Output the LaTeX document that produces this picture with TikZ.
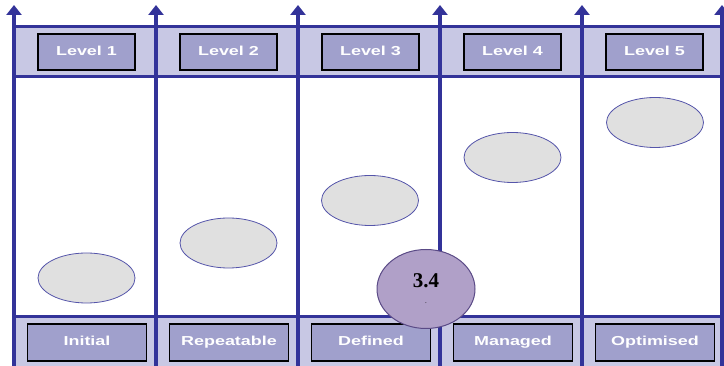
\documentclass[tikz,border=0pt]{standalone}
\usepackage{fontspec}
\setmainfont{Liberation Serif}
\setsansfont{Liberation Sans}
\usetikzlibrary{arrows.meta,shapes.geometric}
\definecolor{pillar}{HTML}{333399}
\definecolor{band}{HTML}{C8C8E4}
\definecolor{lvlfill}{HTML}{A0A0CC}
\definecolor{spotfill}{HTML}{E0E0E0}
\definecolor{spotline}{HTML}{5555AA}
\definecolor{scorefill}{HTML}{B0A0C8}
\definecolor{scoreline}{HTML}{5A4A86}
\newcommand{\widetxt}[1]{\scalebox{1.38}[1]{#1}}
\tikzset{
  levelbox/.style={draw=black, line width=1.2pt, fill=lvlfill, text=white,
    minimum width=97pt, minimum height=36pt, inner sep=0pt,
    text height=9.5pt, text depth=2.7pt,
    font=\sffamily\bfseries\fontsize{13}{15}\selectfont},
  stagebox/.style={levelbox, minimum width=119pt, minimum height=37pt},
  spot/.style={ellipse, draw=spotline, line width=0.8pt, fill=spotfill,
    minimum width=97pt, minimum height=50pt, inner sep=0pt},
  pillarline/.style={pillar, line width=4.5pt},
}
\begin{document}
\begin{tikzpicture}[x=1pt,y=-1pt]
  \useasboundingbox (0,0) rectangle (724,366);
  % bands
  \fill[band] (14,26.5) rectangle (726,76.5);
  \fill[band] (14,317) rectangle (726,366);
  \draw[pillarline, line width=3pt] (14,26.5) -- (726,26.5);
  \draw[pillarline, line width=3pt] (14,76.5) -- (726,76.5);
  \draw[pillarline, line width=3pt] (14,317) -- (726,317);
  % pillars
  \foreach \x in {14,156,298,440,582,722}
    \draw[pillarline, -{Triangle[width=15pt,length=10pt]}] (\x,366) -- (\x,5);
  % levels and stages
  \foreach \i/\name in {1/Initial,2/Repeatable,3/Defined,4/Managed,5/Optimised}{
    \node[levelbox] (lvl\i) at (86.5+142*\i-142,52) {\widetxt{Level \i}};
    \node[stagebox] (stage\i) at (87+142*\i-142,342.5) {\widetxt{\name}};
  }
  % spots
  \node[spot] (spot1) at (86.5,278) {};
  \node[spot] (spot2) at (228.5,243) {};
  \node[spot] (spot3) at (370,200.5) {};
  \node[spot] (spot4) at (512.5,157.5) {};
  \node[spot] (spot5) at (655,122.5) {};
  % score
  \node[ellipse, draw=scoreline, line width=1pt, fill=scorefill,
    minimum width=98pt, minimum height=79pt, inner sep=0pt, align=center,
    font=\bfseries\fontsize{21}{23}\selectfont] (score) at (426,289)
    {3.4\\[-7pt]{\fontsize{5}{5}\selectfont .}};
\end{tikzpicture}
\end{document}
